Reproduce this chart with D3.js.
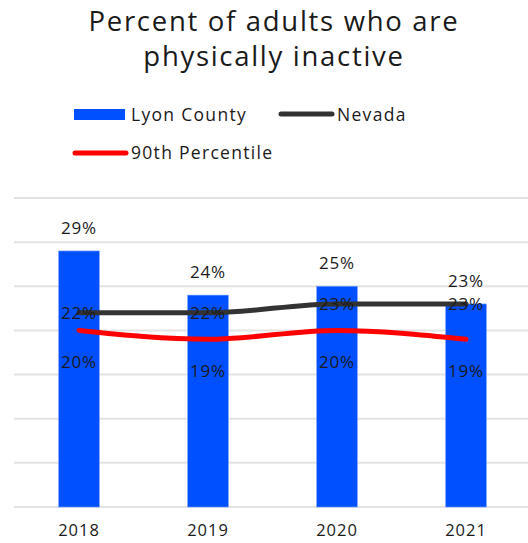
<!DOCTYPE html>
<html>
<head>
<meta charset="utf-8">
<script src="https://cdn.jsdelivr.net/npm/d3@7"></script>
<style>
  body { margin: 0; background: #fff; }
  svg { display: block; font-family: "Open Sans", sans-serif; }
</style>
</head>
<body>
<svg id="chart" width="528" height="543"></svg>
<script>
// Chart data
const years = ["2018", "2019", "2020", "2021"];
const lyonCounty = [29, 24, 25, 23];
const nevada = [22, 22, 23, 23];
const percentile90 = [20, 19, 20, 19];
const yTicks = [0, 5, 10, 15, 20, 25, 30, 35];
const titleLines = ["Percent of adults who are", "physically inactive"];

const svg = d3.select("#chart");
const W = 528;
const plot = { left: 14.5, right: 530.5, top: 198, bottom: 507 };
const textColor = "#1a1a1a";

const x = d3.scaleBand().domain(years).range([plot.left, plot.right]).padding(0);
const y = d3.scaleLinear().domain([0, 35]).range([plot.bottom, plot.top]);
const barW = x.bandwidth() * 0.315;
const cx = d => x(d) + x.bandwidth() / 2;

// Title
svg.append("g").selectAll("text").data(titleLines).join("text")
  .attr("x", 274).attr("y", (d, i) => 31 + i * 35)
  .attr("text-anchor", "middle")
  .attr("font-size", 27.5).attr("letter-spacing", 1.7).attr("fill", textColor)
  .text(d => d);

// Legend
const leg = svg.append("g").attr("font-size", 17.5).attr("letter-spacing", 1.3).attr("fill", textColor);
leg.append("rect").attr("x", 74).attr("y", 109).attr("width", 51).attr("height", 11).attr("fill", "#0050ff");
leg.append("text").attr("x", 131).attr("y", 121).text("Lyon County");
leg.append("line").attr("x1", 281).attr("x2", 332).attr("y1", 114).attr("y2", 114)
  .attr("stroke", "#333333").attr("stroke-width", 5).attr("stroke-linecap", "round");
leg.append("text").attr("x", 337).attr("y", 121).text("Nevada");
leg.append("line").attr("x1", 75).attr("x2", 126).attr("y1", 153).attr("y2", 153)
  .attr("stroke", "#ff0000").attr("stroke-width", 5).attr("stroke-linecap", "round");
leg.append("text").attr("x", 131).attr("y", 159).text("90th Percentile");

// Gridlines
svg.append("g").selectAll("line").data(yTicks).join("line")
  .attr("x1", 14).attr("x2", W)
  .attr("y1", d => y(d)).attr("y2", d => y(d))
  .attr("stroke", "#e3e3e3").attr("stroke-width", 2);

// Bars
svg.append("g").selectAll("rect").data(lyonCounty).join("rect")
  .attr("x", (d, i) => cx(years[i]) - barW / 2)
  .attr("y", d => y(d))
  .attr("width", barW)
  .attr("height", d => y(0) - y(d))
  .attr("fill", "#0050ff")
  .attr("stroke", "#6f9bff").attr("stroke-width", 0.6);

// Lines
const line = d3.line()
  .x((d, i) => cx(years[i]))
  .y(d => y(d))
  .curve(d3.curveMonotoneX);

svg.append("path").datum(nevada).attr("d", line)
  .attr("fill", "none").attr("stroke", "#333333").attr("stroke-width", 5)
  .attr("stroke-linecap", "round");
svg.append("path").datum(percentile90).attr("d", line)
  .attr("fill", "none").attr("stroke", "#ff0000").attr("stroke-width", 5)
  .attr("stroke-linecap", "round");

// Value labels
const labels = svg.append("g").attr("font-size", 17).attr("letter-spacing", 0.8)
  .attr("fill", textColor).attr("text-anchor", "middle");
labels.selectAll("text.bar").data(lyonCounty).join("text").attr("class", "bar")
  .attr("x", (d, i) => cx(years[i])).attr("y", d => y(d) - 17)
  .text(d => d + "%");
labels.selectAll("text.nv").data(nevada).join("text").attr("class", "nv")
  .attr("x", (d, i) => cx(years[i])).attr("y", d => y(d) + 6)
  .text(d => d + "%");
labels.selectAll("text.p90").data(percentile90).join("text").attr("class", "p90")
  .attr("x", (d, i) => cx(years[i])).attr("y", d => y(d) + 38)
  .text(d => d + "%");

// X axis labels
const xAxis = d3.axisBottom(x).tickSize(0).tickPadding(17);
svg.append("g").attr("transform", `translate(0,${plot.bottom})`).call(xAxis)
  .call(g => g.select(".domain").remove())
  .call(g => g.selectAll("text").attr("font-size", 16.5).attr("letter-spacing", 1)
    .attr("fill", textColor).attr("font-family", "Open Sans, sans-serif"));
</script>
</body>
</html>
